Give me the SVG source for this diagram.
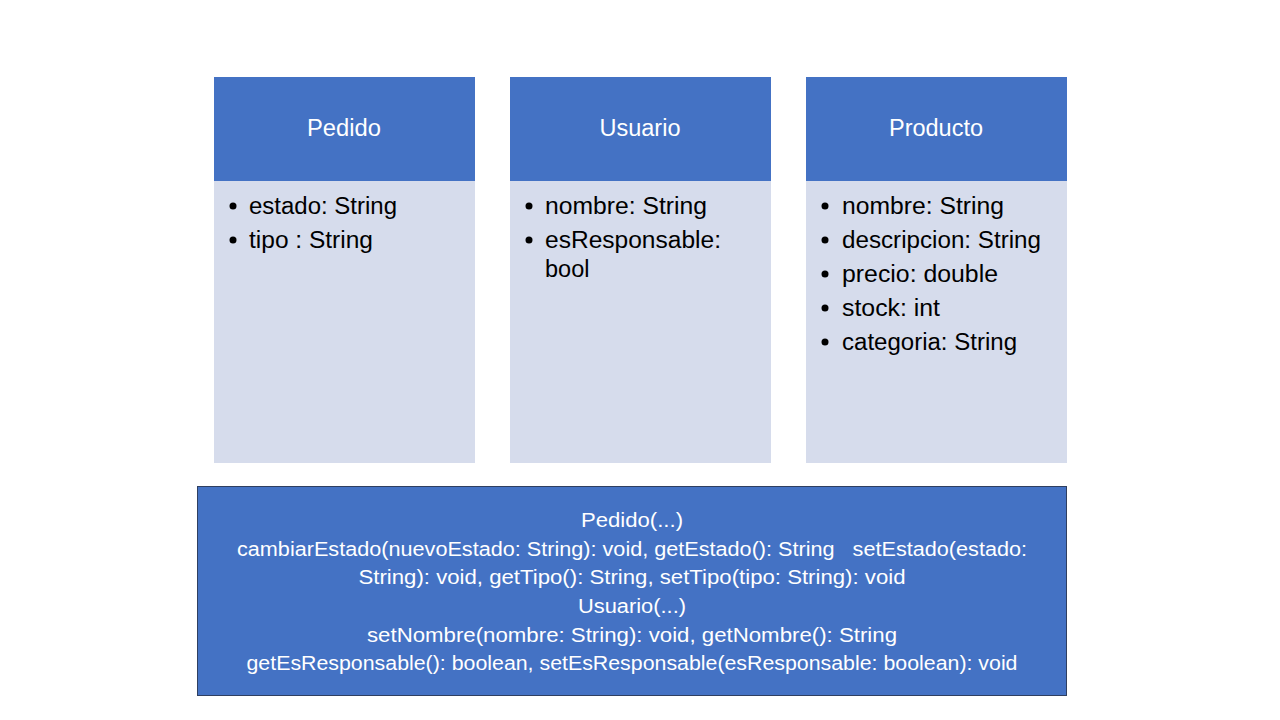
<svg xmlns="http://www.w3.org/2000/svg" width="1280" height="720" viewBox="0 0 1280 720">
<style>
.hdr{fill:#4472C4}
.body{fill:#D6DCEC}
.ttl{font-family:"Liberation Sans",Arial,sans-serif;font-size:23.5px;fill:#FFFFFF;text-anchor:middle}
.attr{font-family:"Liberation Sans",Arial,sans-serif;font-size:23.5px;fill:#000000}
.meth{font-family:"Liberation Sans",Arial,sans-serif;font-size:20px;fill:#FFFFFF;text-anchor:middle;white-space:pre}
</style>
<rect width="1280" height="720" fill="#FFFFFF"/>
<g id="pedido">
<rect class="hdr" x="214" y="77" width="261" height="104"/>
<rect class="body" x="214" y="181" width="261" height="282"/>
<text class="ttl" x="344" y="136" textLength="74" lengthAdjust="spacingAndGlyphs">Pedido</text>
<circle cx="233" cy="206" r="3.5"/>
<text class="attr" x="249" y="214" textLength="148" lengthAdjust="spacingAndGlyphs">estado: String</text>
<circle cx="233" cy="240" r="3.5"/>
<text class="attr" x="249" y="248" textLength="124" lengthAdjust="spacingAndGlyphs">tipo : String</text>
</g>
<g id="usuario">
<rect class="hdr" x="510" y="77" width="261" height="104"/>
<rect class="body" x="510" y="181" width="261" height="282"/>
<text class="ttl" x="640" y="136">Usuario</text>
<circle cx="529" cy="206" r="3.5"/>
<text class="attr" x="545" y="214" textLength="162" lengthAdjust="spacingAndGlyphs">nombre: String</text>
<circle cx="529" cy="240" r="3.5"/>
<text class="attr" x="545" y="248" textLength="176" lengthAdjust="spacingAndGlyphs">esResponsable:</text>
<text class="attr" x="545" y="277">bool</text>
</g>
<g id="producto">
<rect class="hdr" x="806" y="77" width="261" height="104"/>
<rect class="body" x="806" y="181" width="261" height="282"/>
<text class="ttl" x="936" y="136">Producto</text>
<circle cx="825" cy="206" r="3.5"/>
<text class="attr" x="842" y="214" textLength="162" lengthAdjust="spacingAndGlyphs">nombre: String</text>
<circle cx="825" cy="240" r="3.5"/>
<text class="attr" x="842" y="248" textLength="199" lengthAdjust="spacingAndGlyphs">descripcion: String</text>
<circle cx="825" cy="274" r="3.5"/>
<text class="attr" x="842" y="282" textLength="156" lengthAdjust="spacingAndGlyphs">precio: double</text>
<circle cx="825" cy="308" r="3.5"/>
<text class="attr" x="842" y="316" textLength="98" lengthAdjust="spacingAndGlyphs">stock: int</text>
<circle cx="825" cy="342" r="3.5"/>
<text class="attr" x="842" y="350" textLength="175" lengthAdjust="spacingAndGlyphs">categoria: String</text>
</g>
<g id="metodos">
<rect x="197.5" y="486.5" width="869" height="209" fill="#4472C4" stroke="#2F3F60" stroke-width="1"/>
<text class="meth" x="632" y="527" textLength="102" lengthAdjust="spacingAndGlyphs">Pedido(...)</text>
<text class="meth" x="632" y="556" textLength="790" lengthAdjust="spacingAndGlyphs" xml:space="preserve">cambiarEstado(nuevoEstado: String): void, getEstado(): String   setEstado(estado:</text>
<text class="meth" x="632" y="584" textLength="547" lengthAdjust="spacingAndGlyphs">String): void, getTipo(): String, setTipo(tipo: String): void</text>
<text class="meth" x="632" y="613" textLength="108" lengthAdjust="spacingAndGlyphs">Usuario(...)</text>
<text class="meth" x="632" y="642" textLength="530" lengthAdjust="spacingAndGlyphs">setNombre(nombre: String): void, getNombre(): String</text>
<text class="meth" x="632" y="670" textLength="771" lengthAdjust="spacingAndGlyphs">getEsResponsable(): boolean, setEsResponsable(esResponsable: boolean): void</text>
</g>
<g id="connectors"></g>
</svg>
